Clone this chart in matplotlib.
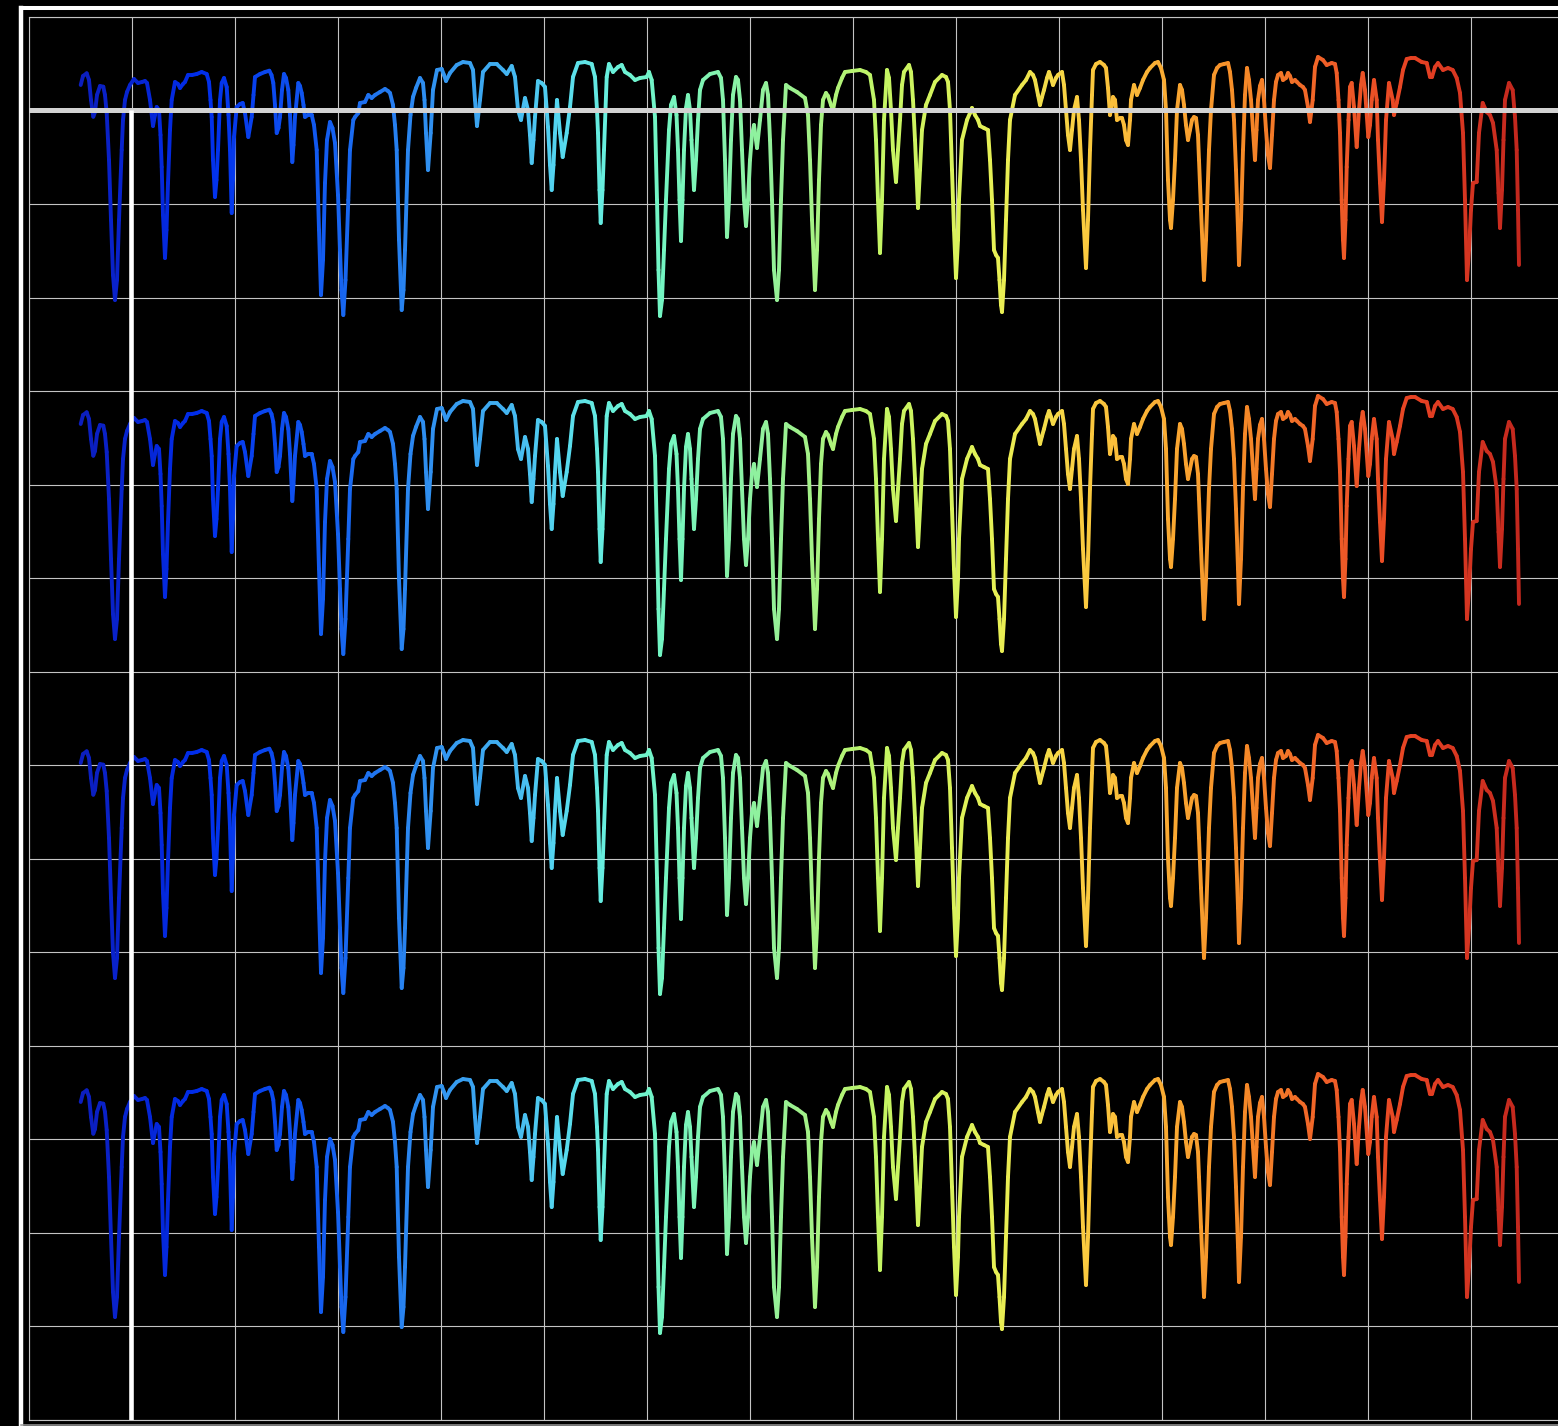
import numpy as np
import matplotlib
matplotlib.use("Agg")
import matplotlib.pyplot as plt
from matplotlib.collections import LineCollection
from matplotlib.colors import LinearSegmentedColormap

# ---------------- data (x position, depth on an inverted axis) ----------------
wavelength = [
    80.7, 83, 86.7, 89, 91, 93.3, 95, 97, 100, 103.3, 105, 106.7, 109, 111, 113, 115, 117, 119, 121.7, 123,
    125, 127, 130, 134, 138, 142, 145, 147, 150, 153, 155, 156.7, 159, 160.5, 161.7, 163, 165, 166.5, 168, 170,
    171.7, 175, 178, 180, 183, 185, 188, 192, 196.7, 201.7, 206.7, 209, 210.5, 211.7, 213, 215, 216.5, 218, 220, 221.7,
    224, 226.7, 228.5, 230, 231.7, 233, 234, 236.7, 240, 242.7, 245, 248.3, 251.7, 253.5, 255, 260, 265, 269.3, 271.5, 273.3,
    275, 276.7, 278.5, 280, 282, 284, 286, 288.3, 290, 292.3, 293.5, 295, 298.3, 300, 301.7, 303.5, 305, 308, 311.7, 314,
    316.7, 319, 321, 323, 325, 327, 330, 332.5, 335, 338, 340, 341.5, 343.3, 345.5, 348.3, 350, 353.3, 355, 358.3, 360,
    365, 368.3, 371.7, 375, 380, 385, 388, 390, 393, 395, 396.7, 399, 401.7, 403.5, 405, 408, 410.5, 413, 416, 420,
    423, 424.5, 426, 428, 430.7, 433, 437, 441.7, 444, 446, 450, 456.7, 463, 470, 473, 475, 477, 480, 483, 490,
    496.7, 503, 506.7, 511.7, 515, 518, 521, 525, 528, 530, 531.7, 533.5, 535, 538, 541.7, 545, 548, 550, 551.7, 553.5,
    555, 557, 560, 562.7, 566.7, 570, 573, 578, 585, 591.7, 595, 597, 598, 599.5, 600.7, 602.5, 604, 606.7, 609, 613,
    618, 621.7, 625, 630, 635, 640, 646.7, 649, 651.7, 655, 657, 658.5, 660, 662, 664, 666, 669, 671, 674, 676.5,
    678, 679.5, 681, 682.5, 684, 686, 688, 690, 691.5, 694, 696, 698, 700, 703, 710, 718, 721, 723, 725, 727,
    729, 731, 733, 736, 738, 740, 742, 744, 746, 748, 750, 752, 754, 757, 760, 763, 766, 768, 770, 772,
    774, 777, 779, 781, 783, 786, 790, 797, 805, 808, 810, 812, 815, 817, 819, 821, 823, 826, 828, 831,
    833, 836, 838, 842, 845, 852, 860, 866, 870, 874, 876, 878, 880, 882, 884, 887, 889, 891, 893, 896,
    898, 900, 902, 904, 909, 911, 913, 915, 918, 920, 922, 926, 930, 935, 942, 946, 948, 950, 952, 954,
    956, 958, 959, 962, 967, 970, 972, 975, 978, 980, 984, 988, 990, 992, 994, 996, 998, 999.5, 1001, 1002,
    1004, 1006, 1008, 1010, 1015, 1022, 1026, 1030, 1033, 1035, 1038, 1040, 1042, 1044, 1047, 1049, 1051, 1053, 1056, 1058,
    1062, 1064, 1066, 1068, 1070, 1072, 1074, 1077, 1079, 1081, 1083, 1086, 1088, 1090, 1092, 1093, 1096, 1100, 1104, 1106,
    1108, 1110, 1112, 1113, 1115, 1117, 1120, 1122, 1124, 1126, 1128, 1130, 1131, 1134, 1137, 1140, 1143, 1147, 1150, 1155,
    1158, 1161, 1164, 1166, 1168, 1170, 1171, 1173, 1175, 1177, 1180, 1182, 1184, 1186, 1188, 1190, 1192, 1194, 1196, 1198,
    1199, 1201, 1204, 1206, 1209, 1211, 1214, 1217, 1220, 1224, 1228, 1230, 1232, 1234, 1236, 1238, 1239, 1241, 1243, 1245,
    1247, 1249, 1251, 1253, 1255, 1256.5, 1258, 1260, 1262, 1264, 1266, 1268, 1270, 1272, 1274, 1276, 1278, 1281, 1283, 1286,
    1288, 1290, 1292, 1295, 1297, 1300, 1303, 1305, 1308, 1310, 1312.7, 1315, 1318, 1323, 1326.7, 1331.7, 1335, 1336.7, 1338.5, 1340,
    1341.7, 1343, 1344, 1345.5, 1346.7, 1348.5, 1350, 1351.7, 1354, 1356.7, 1359, 1361, 1362.7, 1365, 1368.3, 1370, 1371.7, 1374, 1376.7, 1378,
    1380, 1382, 1384, 1386, 1389, 1392.7, 1394, 1396.7, 1400, 1403, 1406.7, 1411, 1415, 1421.7, 1426.7, 1430, 1432, 1435, 1438, 1443,
    1448, 1452.7, 1456.7, 1460, 1463, 1465, 1467, 1469, 1471, 1473, 1476.7, 1479, 1482.7, 1486.7, 1490, 1493, 1496.7, 1498.5, 1500, 1502,
    1503.5, 1505, 1509, 1512.7, 1515, 1516.7, 1518, 1519,
]
depth = [
    85, 76, 73.3, 80, 100, 116.7, 112, 95, 86, 86.7, 95, 113, 160, 220, 275, 300, 280, 220, 150, 120,
    100, 92, 85, 79, 83, 82, 81, 83, 100, 126, 115, 107, 110, 135, 167, 215, 258, 230, 183, 130,
    100, 82, 84, 88, 84, 82, 75, 75, 74, 72, 74, 82, 100, 117, 160, 197, 180, 150, 100, 83,
    78, 87, 115, 150, 213, 180, 137, 107, 104, 103, 113, 137, 117, 95, 77, 74, 72, 70.7, 75, 83,
    105, 133, 128, 117, 90, 74, 78, 90, 115, 162, 145, 117, 83, 86, 93, 105, 117, 115, 115, 125,
    150, 230, 295, 260, 183, 140, 122, 128, 143, 195, 250, 290, 315, 280, 200, 150, 120, 117, 113, 103,
    102, 95, 98, 95, 92, 89, 91, 93, 105, 125, 150, 240, 310, 290, 250, 150, 115, 97, 88, 78,
    83, 100, 133, 170, 133, 90, 70, 69, 75, 81, 73, 65, 62, 63, 70, 100, 126, 100, 72, 64,
    64, 70, 74, 66, 77, 110, 120, 98, 110, 135, 163, 140, 117, 81, 83, 87, 127, 165, 190, 165,
    133, 100, 133, 157, 133, 107, 77, 63, 62, 64, 77, 110, 133, 190, 223, 190, 150, 77, 64, 72,
    67, 65, 72, 75, 80, 78, 77, 72, 80, 117, 200, 270, 316, 300, 250, 200, 130, 105, 97, 115,
    150, 200, 241, 200, 150, 108, 95, 110, 140, 190, 160, 120, 90, 80, 74, 72, 78, 100, 160, 237,
    200, 140, 95, 77, 80, 100, 150, 200, 226, 200, 160, 135, 125, 148, 120, 90, 83, 95, 140, 200,
    270, 300, 270, 200, 140, 85, 88, 92, 98, 115, 160, 220, 290, 250, 180, 125, 100, 93, 96, 105,
    110, 95, 88, 78, 72, 71, 70, 72, 75, 100, 140, 200, 253, 200, 120, 70, 78, 110, 150, 182,
    150, 120, 85, 72, 65, 72, 100, 140, 208, 170, 130, 105, 95, 82, 75, 77, 82, 110, 170, 230,
    278, 240, 200, 140, 120, 113, 108, 115, 120, 126, 128, 130, 160, 200, 250, 255, 258, 280, 305, 312,
    280, 220, 160, 120, 95, 85, 80, 72, 75, 80, 95, 105, 97, 90, 78, 72, 78, 85, 78, 75,
    72, 85, 110, 135, 150, 130, 110, 97, 120, 160, 210, 268, 220, 150, 95, 70, 64, 62, 65, 68,
    88, 115, 105, 97, 100, 120, 118, 118, 125, 140, 145, 120, 100, 85, 95, 88, 80, 72, 68, 63,
    62, 68, 80, 110, 180, 220, 228, 200, 160, 110, 85, 90, 105, 125, 140, 130, 120, 117, 118, 135,
    160, 210, 280, 240, 150, 110, 75, 68, 65, 64, 63, 72, 90, 120, 170, 230, 265, 220, 150, 95,
    68, 80, 100, 130, 160, 130, 100, 86, 80, 100, 130, 155, 168, 135, 100, 82, 75, 73, 80, 78,
    73, 76, 82, 80, 82, 85, 87, 90, 107, 122, 100, 67, 57, 60, 65, 63, 64, 73, 100, 133,
    200, 240, 258, 220, 167, 120, 87, 83, 107, 147, 110, 85, 73, 90, 137, 125, 100, 80, 100, 140,
    183, 222, 180, 120, 83, 100, 115, 103, 87, 70, 59, 58, 58, 62, 63, 77, 77, 67, 63, 70,
    68, 70, 78, 93, 133, 200, 280, 250, 210, 183, 182, 133, 103, 112, 115, 123, 150, 193, 228, 190,
    140, 100, 83, 90, 117, 150, 210, 265,
]
copy_offsets = [0, 339, 678, 1017]
x_grid = list(range(29, 1600, 103))
y_grid = np.linspace(17, 1419.5, 16)
ref_level = 110
marker_x = 131.5

# ---------------- layout ----------------
W, H, DPI = 1558, 1426, 100
fig = plt.figure(figsize=(W / DPI, H / DPI), dpi=DPI, facecolor="black")

# outer frame
fr_left, fr_right, fr_top, fr_bottom = 20.5, 1600, 8, 1424.5
frame = fig.add_axes([fr_left / W, (H - fr_bottom) / H,
                      (fr_right - fr_left) / W, (fr_bottom - fr_top) / H])
frame.set_facecolor("black")
frame.set_xticks([])
frame.set_yticks([])
frame.spines["right"].set_visible(False)
frame.spines["left"].set_color("white")
frame.spines["left"].set_linewidth(3.2)
frame.spines["top"].set_color("white")
frame.spines["top"].set_linewidth(2.9)
frame.spines["bottom"].set_color("#9a9a9a")
frame.spines["bottom"].set_linewidth(1.1)

# plotting area
ax_left, ax_right, ax_top, ax_bottom = 29, 1600, 17, 1419.5
ax = fig.add_axes([ax_left / W, (H - ax_bottom) / H,
                   (ax_right - ax_left) / W, (ax_bottom - ax_top) / H])
ax.set_facecolor("none")
ax.set_xlim(ax_left, ax_right)
ax.set_ylim(ax_bottom, ax_top)
ax.set_xticks(x_grid)
ax.set_yticks(y_grid)
ax.tick_params(length=0, labelbottom=False, labelleft=False)
ax.grid(True, color="#c4c4c4", linewidth=0.8, zorder=0)
ax.set_axisbelow(True)
for side in ["left", "top", "bottom"]:
    ax.spines[side].set_color("#c4c4c4")
    ax.spines[side].set_linewidth(0.8)
ax.spines["right"].set_visible(False)

anchors = [
    (80, (12, 30, 190)), (200, (0, 45, 235)), (330, (20, 95, 240)), (420, (45, 140, 240)),
    (500, (65, 175, 240)), (560, (85, 215, 240)), (610, (105, 240, 220)), (660, (115, 245, 195)),
    (780, (150, 240, 150)), (880, (195, 245, 100)), (1000, (232, 240, 85)), (1080, (250, 205, 65)),
    (1170, (250, 170, 50)), (1240, (245, 140, 40)), (1330, (240, 95, 40)), (1420, (230, 65, 35)),
    (1520, (195, 40, 30)),
]
x0, x1 = anchors[0][0], anchors[-1][0]
cmap = LinearSegmentedColormap.from_list(
    "spec", [((p - x0) / (x1 - x0), tuple(c / 255 for c in col)) for p, col in anchors])

xs = np.asarray(wavelength, float)
ys = np.asarray(depth, float)
mid = 0.5 * (xs[:-1] + xs[1:])
colors = cmap(np.clip((mid - x0) / (x1 - x0), 0, 1))
for off in copy_offsets:
    pts = np.column_stack([xs, ys + off]).reshape(-1, 1, 2)
    segs = np.concatenate([pts[:-1], pts[1:]], axis=1)
    lc = LineCollection(segs, colors=colors, linewidths=2.8, capstyle="round",
                        joinstyle="round", zorder=3)
    ax.add_collection(lc)

ax.axhline(ref_level, color="#d2d2d2", linewidth=3.6, zorder=5)
ax.vlines(marker_x, ref_level, ax_bottom, color="white", linewidth=3.3, zorder=5)

fig.savefig("out.png", dpi=DPI, facecolor="black")
